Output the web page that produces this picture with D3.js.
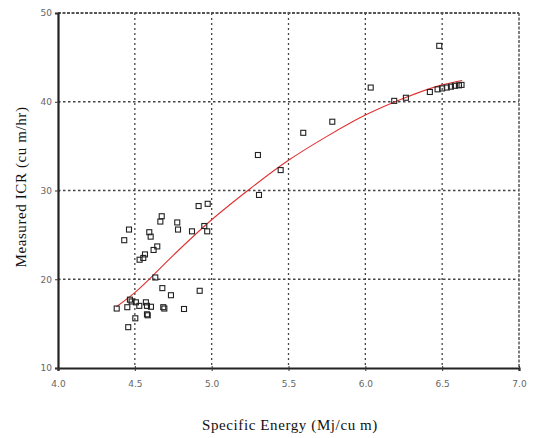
<html>
<script src='https://d3js.org/d3.v7.min.js'></script>
<head>
<style>
	body { margin:0; background:#fff; }
	svg { display:block; }
	.tick text { font-family: "DejaVu Sans", sans-serif; font-size: 9px; fill: #666; }
	.lbl { font-family: "Liberation Serif", serif; font-size: 15px; fill: #111; }
</style>
</head>
<body>
<svg width=535 height=438></svg>
<script>

// measured points: specific energy (Mj/cu m)
var energy = [4.915,4.974,4.675,4.666,4.776,4.781,4.462,4.594,4.603,4.431,4.872,4.952,4.971,
  4.646,4.622,4.566,4.555,4.531,4.633,4.679,4.922,4.735,4.382,4.468,4.451,4.479,4.507,4.529,
  4.572,4.579,4.605,4.579,4.584,4.685,4.692,4.820,4.503,4.457,
  5.596,5.301,5.449,5.308,5.785,
  6.481,6.035,6.188,6.264,6.420,6.470,6.500,6.530,6.557,6.583,6.609,6.626];
// measured ICR (cu m/hr)
var icr = [28.25,28.5,27.1,26.5,26.4,25.6,25.6,25.3,24.8,24.4,25.4,26.0,25.4,
  23.7,23.3,22.8,22.4,22.2,20.2,19.0,18.7,18.2,16.7,17.7,16.85,17.5,17.4,17.0,
  17.4,17.0,16.9,16.05,15.94,16.85,16.7,16.65,15.6,14.6,
  36.5,34.0,32.3,29.5,37.75,
  46.3,41.6,40.1,40.45,41.1,41.4,41.5,41.6,41.7,41.8,41.85,41.9];

// fitted trend line
var fitX = [4.38,4.5,4.75,5.0,5.25,5.5,5.75,6.0,6.25,6.5,6.63];
var fitY = [16.9,18.5,22.7,26.7,30.2,33.4,36.1,38.5,40.4,41.9,42.4];

var xTicks = [4.0,4.5,5.0,5.5,6.0,6.5,7.0];
var yTicks = [10,20,30,40,50];

var pLeft = 58, pRight = 519, pTop = 13, pBottom = 368;

var svg = d3.select("svg");
var x = d3.scaleLinear().domain([4,7]).range([pLeft,pRight]);
var y = d3.scaleLinear().domain([10,50]).range([pBottom,pTop]);

//grid
var grid = svg.append("g");
grid.selectAll(".vg").data(xTicks.slice(1,-1)).enter().append("line")
  .attr("x1", function(d){return x(d);}).attr("x2", function(d){return x(d);})
  .attr("y1", pTop).attr("y2", pBottom)
  .attr("stroke","#444").attr("stroke-width",1.3).attr("stroke-dasharray","2,3");
grid.selectAll(".hg").data(yTicks.slice(1,-1)).enter().append("line")
  .attr("x1", pLeft).attr("x2", pRight)
  .attr("y1", function(d){return y(d);}).attr("y2", function(d){return y(d);})
  .attr("stroke","#444").attr("stroke-width",1.3).attr("stroke-dasharray","2.5,2.5");

//top and right border
svg.append("line").attr("x1",pLeft).attr("x2",pRight).attr("y1",pTop).attr("y2",pTop)
  .attr("stroke","#555").attr("stroke-width",2).attr("stroke-dasharray","3,1.5");
svg.append("line").attr("x1",pRight).attr("x2",pRight).attr("y1",pTop).attr("y2",pBottom)
  .attr("stroke","#555").attr("stroke-width",1.5).attr("stroke-dasharray","3,1.5");

//axes
var xaxis = svg.append("g").attr("transform","translate(0,"+pBottom+")")
  .call(d3.axisBottom(x).tickValues(xTicks).tickFormat(d3.format(".1f")).tickSize(3).tickPadding(10));
var yaxis = svg.append("g").attr("transform","translate("+pLeft+",0)")
  .call(d3.axisLeft(y).tickValues(yTicks).tickSize(3).tickPadding(3));
[xaxis,yaxis].forEach(function(a){
  a.select(".domain").attr("stroke","#222").attr("stroke-width",2.2);
  a.selectAll(".tick line").attr("stroke","#333");
});
xaxis.selectAll(".tick line").attr("y1",-2);
yaxis.selectAll(".tick line").attr("x1",2);

//trend line
var line = d3.line().x(function(d){return x(d[0]);}).y(function(d){return y(d[1]);})
  .curve(d3.curveMonotoneX);
svg.append("path").datum(d3.zip(fitX,fitY)).attr("d",line)
  .attr("fill","none").attr("stroke","#e03030").attr("stroke-width",1.1);

//points
svg.append("g").selectAll("rect").data(d3.zip(energy,icr)).enter().append("rect")
  .attr("x", function(d){return x(d[0])-2.5;})
  .attr("y", function(d){return y(d[1])-2.5;})
  .attr("width",5).attr("height",5)
  .attr("fill","none").attr("stroke","#222").attr("stroke-width",1.1);

//labels
svg.append("text").attr("class","lbl").attr("text-anchor","middle")
  .attr("transform","translate(26,"+187+") rotate(-90)")
  .style("letter-spacing","0.6px")
  .text("Measured ICR (cu m/hr)");
svg.append("text").attr("class","lbl").attr("text-anchor","middle")
  .attr("x",290).attr("y",430)
  .style("letter-spacing","0.6px")
  .text("Specific Energy (Mj/cu m)");

</script>
</body>
</html>
